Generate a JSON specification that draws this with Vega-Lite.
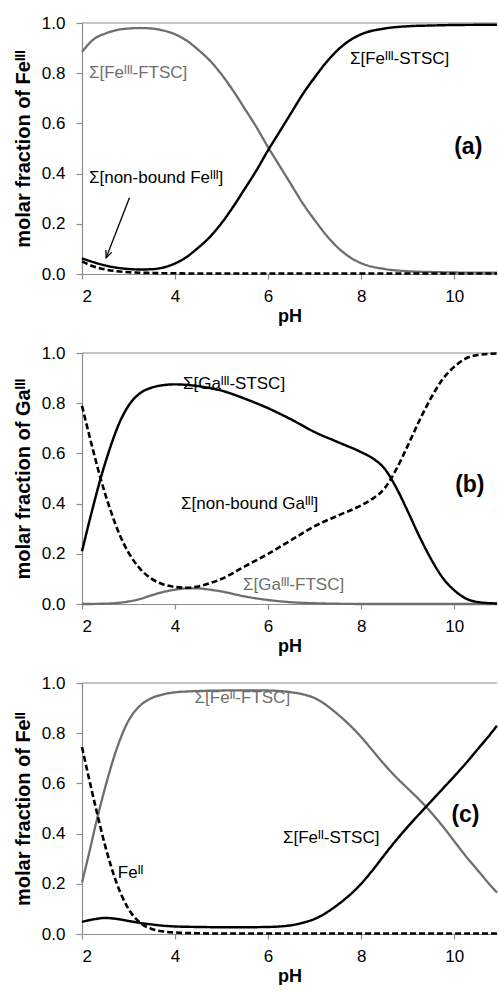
{
  "$schema": "https://vega.github.io/schema/vega-lite/v6.json",
  "padding": {"top": 14, "left": 13, "right": 0, "bottom": 0},
  "background": "#ffffff",
  "bounds": "flush",
  "spacing": 79,
  "config": {
    "view": {"stroke": null},
    "font": "Liberation Sans",
    "axis": {
      "grid": false,
      "domainColor": "#8c8c8c",
      "tickColor": "#8c8c8c",
      "domainWidth": 1.2,
      "tickWidth": 1.2,
      "tickSize": 6,
      "labelFont": "Liberation Sans",
      "labelFontSize": 17,
      "labelColor": "#000000",
      "titleFont": "Liberation Sans",
      "titleFontWeight": "bold",
      "titleColor": "#000000"
    }
  },
  "datasets": {
    "one": [{}],
    "a": [
      {"pH": 2.0, "FTSC": 0.885, "STSC": 0.062, "free": 0.05},
      {"pH": 2.25, "FTSC": 0.935, "STSC": 0.047, "free": 0.03},
      {"pH": 2.5, "FTSC": 0.958, "STSC": 0.034, "free": 0.018},
      {"pH": 2.75, "FTSC": 0.972, "STSC": 0.025, "free": 0.011},
      {"pH": 3.0, "FTSC": 0.978, "STSC": 0.02, "free": 0.007},
      {"pH": 3.25, "FTSC": 0.98, "STSC": 0.018, "free": 0.005},
      {"pH": 3.5, "FTSC": 0.978, "STSC": 0.019, "free": 0.004},
      {"pH": 3.75, "FTSC": 0.97, "STSC": 0.026, "free": 0.003},
      {"pH": 4.0, "FTSC": 0.955, "STSC": 0.042, "free": 0.003},
      {"pH": 4.25, "FTSC": 0.93, "STSC": 0.068, "free": 0.002},
      {"pH": 4.5, "FTSC": 0.893, "STSC": 0.105, "free": 0.002},
      {"pH": 4.75, "FTSC": 0.85, "STSC": 0.148, "free": 0.002},
      {"pH": 5.0, "FTSC": 0.795, "STSC": 0.203, "free": 0.002},
      {"pH": 5.25, "FTSC": 0.73, "STSC": 0.268, "free": 0.002},
      {"pH": 5.5, "FTSC": 0.658, "STSC": 0.34, "free": 0.002},
      {"pH": 5.75, "FTSC": 0.585, "STSC": 0.413, "free": 0.002},
      {"pH": 6.0, "FTSC": 0.505, "STSC": 0.493, "free": 0.002},
      {"pH": 6.25, "FTSC": 0.43, "STSC": 0.568, "free": 0.002},
      {"pH": 6.5, "FTSC": 0.355, "STSC": 0.643, "free": 0.002},
      {"pH": 6.75, "FTSC": 0.28, "STSC": 0.718, "free": 0.002},
      {"pH": 7.0, "FTSC": 0.215, "STSC": 0.783, "free": 0.002},
      {"pH": 7.25, "FTSC": 0.155, "STSC": 0.843, "free": 0.002},
      {"pH": 7.5, "FTSC": 0.105, "STSC": 0.893, "free": 0.002},
      {"pH": 7.75, "FTSC": 0.068, "STSC": 0.93, "free": 0.002},
      {"pH": 8.0, "FTSC": 0.043, "STSC": 0.955, "free": 0.002},
      {"pH": 8.5, "FTSC": 0.02, "STSC": 0.978, "free": 0.002},
      {"pH": 9.0, "FTSC": 0.011, "STSC": 0.987, "free": 0.002},
      {"pH": 9.5, "FTSC": 0.008, "STSC": 0.99, "free": 0.002},
      {"pH": 10.0, "FTSC": 0.006, "STSC": 0.992, "free": 0.002},
      {"pH": 10.92, "FTSC": 0.005, "STSC": 0.993, "free": 0.002}
    ],
    "b": [
      {"pH": 2.0, "STSC": 0.21, "free": 0.79, "FTSC": 0.0},
      {"pH": 2.2, "STSC": 0.36, "free": 0.64, "FTSC": 0.0},
      {"pH": 2.4, "STSC": 0.5, "free": 0.5, "FTSC": 0.001},
      {"pH": 2.6, "STSC": 0.62, "free": 0.38, "FTSC": 0.002},
      {"pH": 2.8, "STSC": 0.72, "free": 0.28, "FTSC": 0.005},
      {"pH": 3.0, "STSC": 0.79, "free": 0.205, "FTSC": 0.01},
      {"pH": 3.25, "STSC": 0.84, "free": 0.14, "FTSC": 0.02},
      {"pH": 3.5, "STSC": 0.862, "free": 0.1, "FTSC": 0.035},
      {"pH": 3.75, "STSC": 0.872, "free": 0.078, "FTSC": 0.048},
      {"pH": 4.0, "STSC": 0.875, "free": 0.068, "FTSC": 0.057},
      {"pH": 4.25, "STSC": 0.873, "free": 0.065, "FTSC": 0.062},
      {"pH": 4.5, "STSC": 0.868, "free": 0.07, "FTSC": 0.062},
      {"pH": 4.75, "STSC": 0.86, "free": 0.083, "FTSC": 0.057},
      {"pH": 5.0, "STSC": 0.85, "free": 0.1, "FTSC": 0.05},
      {"pH": 5.5, "STSC": 0.818, "free": 0.15, "FTSC": 0.03},
      {"pH": 6.0, "STSC": 0.78, "free": 0.2, "FTSC": 0.016},
      {"pH": 6.5, "STSC": 0.735, "free": 0.255, "FTSC": 0.007},
      {"pH": 7.0, "STSC": 0.685, "free": 0.31, "FTSC": 0.003},
      {"pH": 7.5, "STSC": 0.645, "free": 0.352, "FTSC": 0.001},
      {"pH": 8.0, "STSC": 0.605, "free": 0.393, "FTSC": 0.0},
      {"pH": 8.25, "STSC": 0.58, "free": 0.42, "FTSC": 0.0},
      {"pH": 8.5, "STSC": 0.54, "free": 0.46, "FTSC": 0.0},
      {"pH": 8.75, "STSC": 0.465, "free": 0.535, "FTSC": 0.0},
      {"pH": 9.0, "STSC": 0.37, "free": 0.63, "FTSC": 0.0},
      {"pH": 9.25, "STSC": 0.27, "free": 0.73, "FTSC": 0.0},
      {"pH": 9.5, "STSC": 0.18, "free": 0.82, "FTSC": 0.0},
      {"pH": 9.75, "STSC": 0.105, "free": 0.895, "FTSC": 0.0},
      {"pH": 10.0, "STSC": 0.055, "free": 0.945, "FTSC": 0.0},
      {"pH": 10.25, "STSC": 0.022, "free": 0.978, "FTSC": 0.0},
      {"pH": 10.5, "STSC": 0.008, "free": 0.992, "FTSC": 0.0},
      {"pH": 10.92, "STSC": 0.002, "free": 0.998, "FTSC": 0.0}
    ],
    "c": [
      {"pH": 2.0, "FTSC": 0.205, "STSC": 0.048, "free": 0.745},
      {"pH": 2.15, "FTSC": 0.32, "STSC": 0.055, "free": 0.62},
      {"pH": 2.3, "FTSC": 0.44, "STSC": 0.06, "free": 0.5},
      {"pH": 2.5, "FTSC": 0.585, "STSC": 0.064, "free": 0.35},
      {"pH": 2.75, "FTSC": 0.74, "STSC": 0.06, "free": 0.2},
      {"pH": 3.0, "FTSC": 0.85, "STSC": 0.052, "free": 0.1},
      {"pH": 3.25, "FTSC": 0.91, "STSC": 0.044, "free": 0.045},
      {"pH": 3.5, "FTSC": 0.94, "STSC": 0.038, "free": 0.02},
      {"pH": 3.75, "FTSC": 0.955, "STSC": 0.033, "free": 0.01},
      {"pH": 4.0, "FTSC": 0.963, "STSC": 0.03, "free": 0.006},
      {"pH": 4.5, "FTSC": 0.968, "STSC": 0.028, "free": 0.003},
      {"pH": 5.0, "FTSC": 0.97, "STSC": 0.027, "free": 0.002},
      {"pH": 5.5, "FTSC": 0.971, "STSC": 0.027, "free": 0.002},
      {"pH": 6.0, "FTSC": 0.97, "STSC": 0.028, "free": 0.002},
      {"pH": 6.25, "FTSC": 0.968, "STSC": 0.03, "free": 0.002},
      {"pH": 6.5, "FTSC": 0.963, "STSC": 0.035, "free": 0.002},
      {"pH": 6.75, "FTSC": 0.955, "STSC": 0.045, "free": 0.002},
      {"pH": 7.0, "FTSC": 0.94, "STSC": 0.06, "free": 0.002},
      {"pH": 7.5, "FTSC": 0.875, "STSC": 0.117, "free": 0.002},
      {"pH": 8.0, "FTSC": 0.785, "STSC": 0.2, "free": 0.002},
      {"pH": 8.25, "FTSC": 0.73, "STSC": 0.255, "free": 0.002},
      {"pH": 8.5, "FTSC": 0.675, "STSC": 0.315, "free": 0.002},
      {"pH": 8.75, "FTSC": 0.625, "STSC": 0.373, "free": 0.002},
      {"pH": 9.0, "FTSC": 0.58, "STSC": 0.427, "free": 0.002},
      {"pH": 9.25, "FTSC": 0.535, "STSC": 0.478, "free": 0.002},
      {"pH": 9.5, "FTSC": 0.485, "STSC": 0.528, "free": 0.002},
      {"pH": 9.75, "FTSC": 0.43, "STSC": 0.578, "free": 0.002},
      {"pH": 10.0, "FTSC": 0.37, "STSC": 0.628, "free": 0.002},
      {"pH": 10.25, "FTSC": 0.31, "STSC": 0.68, "free": 0.002},
      {"pH": 10.5, "FTSC": 0.255, "STSC": 0.735, "free": 0.002},
      {"pH": 10.75, "FTSC": 0.2, "STSC": 0.79, "free": 0.002},
      {"pH": 10.92, "FTSC": 0.165, "STSC": 0.83, "free": 0.002}
    ],
    "la": [
      {"label": "Σ[Feᴵᴵᴵ-FTSC]", "pH": 2.15, "frac": 0.8, "ligand": "FTSC"},
      {"label": "Σ[Feᴵᴵᴵ-STSC]", "pH": 7.76, "frac": 0.857, "ligand": "STSC"},
      {"label": "Σ[non-bound Feᴵᴵᴵ]", "pH": 2.15, "frac": 0.383, "ligand": "free"}
    ],
    "lb": [
      {"label": "Σ[Gaᴵᴵᴵ-STSC]", "pH": 4.17, "frac": 0.877, "ligand": "STSC"},
      {"label": "Σ[non-bound Gaᴵᴵᴵ]", "pH": 4.13, "frac": 0.4, "ligand": "free"},
      {"label": "Σ[Gaᴵᴵᴵ-FTSC]", "pH": 5.46, "frac": 0.077, "ligand": "FTSC"}
    ],
    "lc": [
      {"label": "Σ[Feᴵᴵ-FTSC]", "pH": 4.42, "frac": 0.94, "ligand": "FTSC"},
      {"label": "Σ[Feᴵᴵ-STSC]", "pH": 6.32, "frac": 0.384, "ligand": "STSC"},
      {"label": "Feᴵᴵ", "pH": 2.77, "frac": 0.243, "ligand": "free"}
    ]
  },
  "vconcat": [
    {
      "width": 415,
      "height": 251,
      "layer": [
        {"data": {"name": "one"}, "mark": {"type": "rule", "color": "#8c8c8c", "strokeWidth": 1.2}, "encoding": {"y": {"datum": 1, "type": "quantitative"}}},
        {
          "data": {"name": "a"},
          "transform": [{"fold": ["FTSC", "STSC", "free"], "as": ["ligand", "frac"]}],
          "mark": {"type": "line", "interpolate": "monotone"},
          "encoding": {
            "x": {"field": "pH", "type": "quantitative", "scale": {"domain": [2, 10.92], "nice": false, "zero": false}, "axis": {"values": [2, 4, 6, 8, 10], "title": "pH", "titleFontSize": 18, "labelPadding": 9, "titlePadding": 3, "tickSize": 5}},
            "y": {"field": "frac", "type": "quantitative", "scale": {"domain": [0, 1], "nice": false}, "axis": {"values": [0, 0.2, 0.4, 0.6, 0.8, 1.0], "format": ".1f", "title": "molar fraction of Feᴵᴵᴵ", "titleFontSize": 20, "labelPadding": 11, "titlePadding": 8}},
            "color": {"field": "ligand", "type": "nominal", "scale": {"domain": ["FTSC", "STSC", "free"], "range": ["#6e6e6e", "#000000", "#000000"]}, "legend": null},
            "strokeDash": {"field": "ligand", "type": "nominal", "scale": {"domain": ["FTSC", "STSC", "free"], "range": [[1, 0], [1, 0], [6, 3]]}, "legend": null},
            "strokeWidth": {"field": "ligand", "type": "nominal", "scale": {"domain": ["FTSC", "STSC", "free"], "range": [2.3, 2.6, 2]}, "legend": null}
          }
        },
        {
          "data": {"name": "la"},
          "mark": {"type": "text", "align": "left", "baseline": "middle", "fontSize": 17, "font": "Liberation Sans"},
          "encoding": {
            "x": {"field": "pH", "type": "quantitative"},
            "y": {"field": "frac", "type": "quantitative"},
            "text": {"field": "label"},
            "color": {"field": "ligand", "type": "nominal", "legend": null}
          }
        },
        {
          "data": {"name": "one"},
          "mark": {"type": "rule", "color": "#000000", "strokeWidth": 1.3},
          "encoding": {"x": {"datum": 3.02, "type": "quantitative"}, "y": {"datum": 0.304, "type": "quantitative"}, "x2": {"datum": 2.52}, "y2": {"datum": 0.065}}
        },
        {
          "data": {"name": "one"},
          "mark": {"type": "point", "shape": "M-0.45,1L0,0L0.45,1", "filled": false, "stroke": "#000000", "strokeWidth": 1.3, "size": 200, "angle": 201.5, "opacity": 1},
          "encoding": {"x": {"datum": 2.52, "type": "quantitative"}, "y": {"datum": 0.065, "type": "quantitative"}}
        },
        {
          "data": {"name": "one"},
          "mark": {"type": "text", "text": "(a)", "align": "left", "baseline": "middle", "fontSize": 23, "fontWeight": "bold", "font": "Liberation Sans", "color": "#000000"},
          "encoding": {"x": {"datum": 10.0, "type": "quantitative"}, "y": {"datum": 0.506, "type": "quantitative"}}
        }
      ]
    },
    {
      "width": 415,
      "height": 251,
      "layer": [
        {"data": {"name": "one"}, "mark": {"type": "rule", "color": "#8c8c8c", "strokeWidth": 1.2}, "encoding": {"y": {"datum": 1, "type": "quantitative"}}},
        {
          "data": {"name": "b"},
          "transform": [{"fold": ["FTSC", "STSC", "free"], "as": ["ligand", "frac"]}],
          "mark": {"type": "line", "interpolate": "monotone"},
          "encoding": {
            "x": {"field": "pH", "type": "quantitative", "scale": {"domain": [2, 10.92], "nice": false, "zero": false}, "axis": {"values": [2, 4, 6, 8, 10], "title": "pH", "titleFontSize": 18, "labelPadding": 9, "titlePadding": 3, "tickSize": 5}},
            "y": {"field": "frac", "type": "quantitative", "scale": {"domain": [0, 1], "nice": false}, "axis": {"values": [0, 0.2, 0.4, 0.6, 0.8, 1.0], "format": ".1f", "title": "molar fraction of Gaᴵᴵᴵ", "titleFontSize": 20, "labelPadding": 11, "titlePadding": 8}},
            "color": {"field": "ligand", "type": "nominal", "scale": {"domain": ["FTSC", "STSC", "free"], "range": ["#6e6e6e", "#000000", "#000000"]}, "legend": null},
            "strokeDash": {"field": "ligand", "type": "nominal", "scale": {"domain": ["FTSC", "STSC", "free"], "range": [[1, 0], [1, 0], [6, 3]]}, "legend": null},
            "strokeWidth": {"field": "ligand", "type": "nominal", "scale": {"domain": ["FTSC", "STSC", "free"], "range": [2.3, 2.6, 2]}, "legend": null}
          }
        },
        {
          "data": {"name": "lb"},
          "mark": {"type": "text", "align": "left", "baseline": "middle", "fontSize": 17, "font": "Liberation Sans"},
          "encoding": {
            "x": {"field": "pH", "type": "quantitative"},
            "y": {"field": "frac", "type": "quantitative"},
            "text": {"field": "label"},
            "color": {"field": "ligand", "type": "nominal", "legend": null}
          }
        },
        {
          "data": {"name": "one"},
          "mark": {"type": "text", "text": "(b)", "align": "left", "baseline": "middle", "fontSize": 23, "fontWeight": "bold", "font": "Liberation Sans", "color": "#000000"},
          "encoding": {"x": {"datum": 10.02, "type": "quantitative"}, "y": {"datum": 0.473, "type": "quantitative"}}
        }
      ]
    },
    {
      "width": 415,
      "height": 251,
      "layer": [
        {"data": {"name": "one"}, "mark": {"type": "rule", "color": "#8c8c8c", "strokeWidth": 1.2}, "encoding": {"y": {"datum": 1, "type": "quantitative"}}},
        {
          "data": {"name": "c"},
          "transform": [{"fold": ["FTSC", "STSC", "free"], "as": ["ligand", "frac"]}],
          "mark": {"type": "line", "interpolate": "monotone"},
          "encoding": {
            "x": {"field": "pH", "type": "quantitative", "scale": {"domain": [2, 10.92], "nice": false, "zero": false}, "axis": {"values": [2, 4, 6, 8, 10], "title": "pH", "titleFontSize": 18, "labelPadding": 9, "titlePadding": 3, "tickSize": 5}},
            "y": {"field": "frac", "type": "quantitative", "scale": {"domain": [0, 1], "nice": false}, "axis": {"values": [0, 0.2, 0.4, 0.6, 0.8, 1.0], "format": ".1f", "title": "molar fraction of Feᴵᴵ", "titleFontSize": 20, "labelPadding": 11, "titlePadding": 8}},
            "color": {"field": "ligand", "type": "nominal", "scale": {"domain": ["FTSC", "STSC", "free"], "range": ["#6e6e6e", "#000000", "#000000"]}, "legend": null},
            "strokeDash": {"field": "ligand", "type": "nominal", "scale": {"domain": ["FTSC", "STSC", "free"], "range": [[1, 0], [1, 0], [6, 3]]}, "legend": null},
            "strokeWidth": {"field": "ligand", "type": "nominal", "scale": {"domain": ["FTSC", "STSC", "free"], "range": [2.3, 2.6, 2]}, "legend": null}
          }
        },
        {
          "data": {"name": "lc"},
          "mark": {"type": "text", "align": "left", "baseline": "middle", "fontSize": 17, "font": "Liberation Sans"},
          "encoding": {
            "x": {"field": "pH", "type": "quantitative"},
            "y": {"field": "frac", "type": "quantitative"},
            "text": {"field": "label"},
            "color": {"field": "ligand", "type": "nominal", "legend": null}
          }
        },
        {
          "data": {"name": "one"},
          "mark": {"type": "text", "text": "(c)", "align": "left", "baseline": "middle", "fontSize": 23, "fontWeight": "bold", "font": "Liberation Sans", "color": "#000000"},
          "encoding": {"x": {"datum": 9.94, "type": "quantitative"}, "y": {"datum": 0.474, "type": "quantitative"}}
        }
      ]
    }
  ]
}
